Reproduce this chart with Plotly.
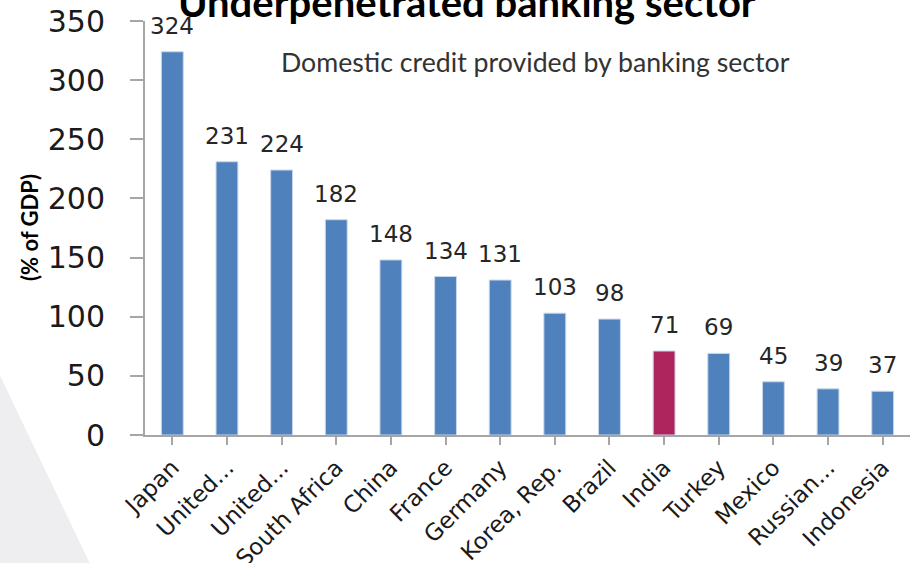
import plotly.graph_objects as go

# Domestic credit provided by the banking sector, % of GDP
countries = ["Japan", "United...", "United...", "South Africa", "China", "France",
             "Germany", "Korea, Rep.", "Brazil", "India", "Turkey", "Mexico",
             "Russian...", "Indonesia"]
credit_pct_gdp = [324, 231, 224, 182, 148, 134, 131, 103, 98, 71, 69, 45, 39, 37]
highlight = "India"

y_ticks = [0, 50, 100, 150, 200, 250, 300, 350]

BLUE = "#4F81BD"
CRIMSON = "#AE255E"
bar_colors = [CRIMSON if c == highlight else BLUE for c in countries]

# plot area in pixels, used to place free-floating text in paper units
PLOT_L, PLOT_W, PLOT_B, PLOT_H = 145, 765, 435, 414


def px_to_paper(px, py):
    return (px - PLOT_L) / PLOT_W, (PLOT_B - py) / PLOT_H


fig = go.Figure()

fig.add_trace(go.Bar(
    x=list(range(len(countries))),
    y=credit_pct_gdp,
    marker=dict(color=bar_colors, line=dict(color="#C9D7EB", width=1)),
    hoverinfo="skip",
))

# value labels above each bar
for i, v in enumerate(credit_pct_gdp):
    fig.add_annotation(
        x=i, y=v, xref="x", yref="y",
        text=str(v),
        showarrow=False,
        yanchor="bottom", xanchor="center",
        yshift=11,
        font=dict(family="DejaVu Sans", size=23, color="#262626"),
    )

fig.update_layout(
    width=910,
    height=563,
    margin=dict(l=PLOT_L, r=0, t=21, b=128, autoexpand=False),
    paper_bgcolor="white",
    plot_bgcolor="white",
    bargap=0.6,
    showlegend=False,
    font=dict(family="DejaVu Sans", color="#1a1a1a"),
)

fig.update_xaxes(
    tickmode="array",
    tickvals=list(range(len(countries))),
    ticktext=countries,
    range=[-0.5, len(countries) - 0.5],
    tickangle=-45,
    tickfont=dict(family="DejaVu Sans", size=23, color="#1a1a1a"),
    showline=True,
    linecolor="#A6A6A6",
    linewidth=2,
    ticks="outside",
    tickson="boundaries",
    ticklen=8,
    tickwidth=2,
    tickcolor="#A6A6A6",
    showgrid=False,
    zeroline=False,
    automargin=False,
)

fig.update_yaxes(
    range=[0, 350],
    tickmode="array",
    tickvals=y_ticks,
    tickfont=dict(family="DejaVu Sans", size=30, color="#1a1a1a"),
    showline=True,
    linecolor="#A6A6A6",
    linewidth=2,
    ticks="outside",
    ticklen=13,
    tickwidth=2,
    tickcolor="#A6A6A6",
    ticklabelstandoff=19,
    showgrid=False,
    zeroline=False,
    automargin=False,
)

# Faint slide-background wedge at lower left
wx0, wy0 = px_to_paper(-5, 365)
wx1, wy1 = px_to_paper(92, 568)
wx2, wy2 = px_to_paper(-5, 568)
fig.add_shape(
    type="path",
    xref="paper", yref="paper",
    path=f"M {wx0} {wy0} L {wx1} {wy1} L {wx2} {wy2} Z",
    fillcolor="#EEEEF0",
    line=dict(width=0),
    layer="below",
)

tx, ty = px_to_paper(467, 2)
fig.add_annotation(
    text="<b>Underpenetrated banking sector</b>",
    xref="paper", yref="paper",
    x=tx, y=ty,
    xanchor="center", yanchor="middle",
    showarrow=False,
    font=dict(family="Lato", size=40, color="#000000"),
)

sx, sy = px_to_paper(535, 62)
fig.add_annotation(
    text="Domestic credit provided by banking sector",
    xref="paper", yref="paper",
    x=sx, y=sy,
    xanchor="center", yanchor="middle",
    showarrow=False,
    font=dict(family="Lato", size=26.7, color="#333333"),
)

ax, ay = px_to_paper(29, 228)
fig.add_annotation(
    text="<b>(% of GDP)</b>",
    xref="paper", yref="paper",
    x=ax, y=ay,
    xanchor="center", yanchor="middle",
    textangle=-90,
    showarrow=False,
    font=dict(family="Lato", size=22, color="#000000"),
)

fig.write_html("out.html")
